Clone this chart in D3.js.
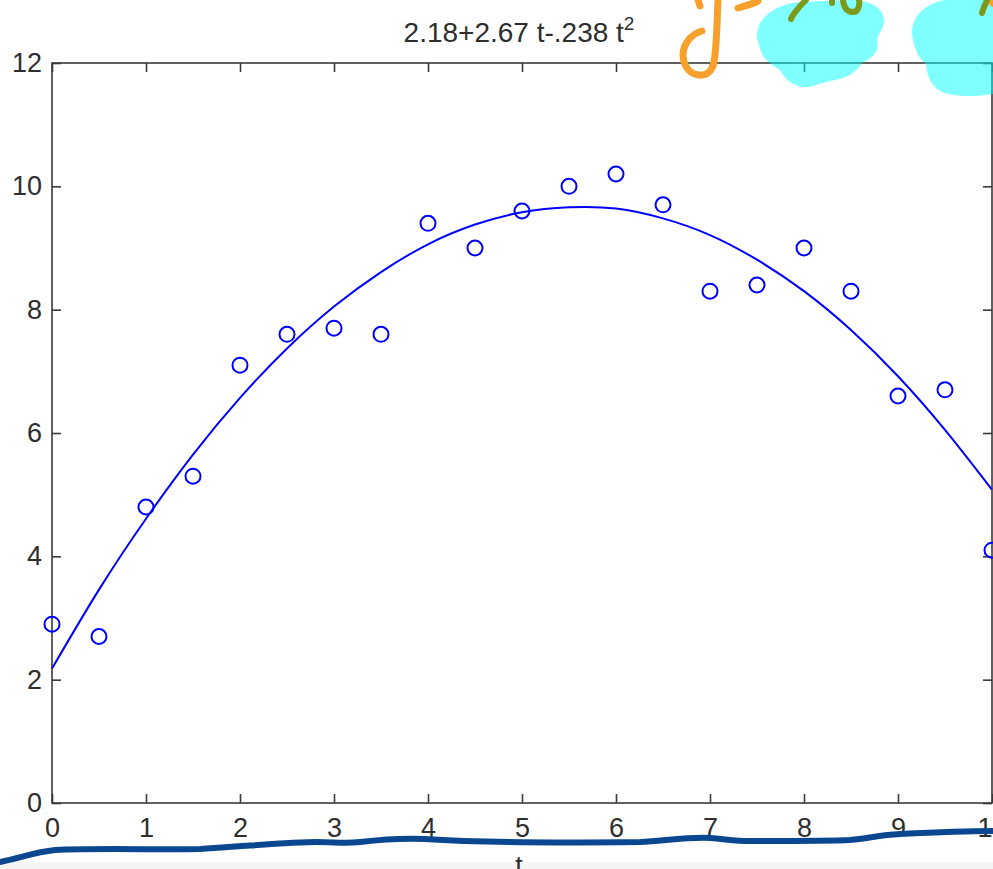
<!DOCTYPE html>
<html>
<head>
<meta charset="utf-8">
<script src="https://cdn.jsdelivr.net/npm/d3@7"></script>
<style>
  body { margin: 0; background: #fff; }
  svg { display: block; }
  .axis text { font-family: "Liberation Sans", Arial, sans-serif; font-size: 27px; fill: #2e2e2e; }
  .axis line { stroke: #3a3a3a; stroke-width: 1.6; }
</style>
</head>
<body>
<div id="chart"></div>
<script>
const tValues = [0, 0.5, 1, 1.5, 2, 2.5, 3, 3.5, 4, 4.5, 5, 5.5, 6, 6.5, 7, 7.5, 8, 8.5, 9, 9.5, 10];
const yValues = [2.9, 2.7, 4.8, 5.3, 7.1, 7.6, 7.7, 7.6, 9.4, 9.0, 9.6, 10.0, 10.2, 9.7, 8.3, 8.4, 9.0, 8.3, 6.6, 6.7, 4.1];
// fitted curve as drawn, read at the same times
const fitValues = [2.18, 3.46, 4.61, 5.65, 6.57, 7.37, 8.05, 8.61, 9.06, 9.38, 9.58, 9.66, 9.64, 9.48, 9.21, 8.81, 8.30, 7.67, 6.92, 6.05, 5.08];
const xTicks = [0, 1, 2, 3, 4, 5, 6, 7, 8, 9, 10];
const yTicks = [0, 2, 4, 6, 8, 10, 12];

const W = 993, H = 869;
const margin = {top: 63, right: 1, bottom: 66, left: 52};

const svg = d3.select("#chart").append("svg")
    .attr("width", W)
    .attr("height", H);

const x = d3.scaleLinear().domain([0, 10]).range([margin.left, W - margin.right]);
const y = d3.scaleLinear().domain([0, 12]).range([H - margin.bottom, margin.top]);

// light strip at the very bottom of the screenshot
svg.append("rect")
    .attr("x", 0).attr("y", 862).attr("width", W).attr("height", H - 862)
    .attr("fill", "#f4f4f4");

// axes, MATLAB style: ticks pointing inward on all four sides
const tick = 9;
const gx = svg.append("g").attr("class", "axis")
    .attr("transform", `translate(0,${y(0)})`)
    .call(d3.axisBottom(x).tickValues(xTicks).tickSizeInner(-tick).tickSizeOuter(0).tickPadding(15));
const gy = svg.append("g").attr("class", "axis")
    .attr("transform", `translate(${x(0)},0)`)
    .call(d3.axisLeft(y).tickValues(yTicks).tickSizeInner(-tick).tickSizeOuter(0).tickPadding(10));
const gt = svg.append("g").attr("class", "axis")
    .attr("transform", `translate(0,${y(12)})`)
    .call(d3.axisTop(x).tickValues(xTicks).tickSizeInner(-tick).tickSizeOuter(0).tickFormat(""));
const gr = svg.append("g").attr("class", "axis")
    .attr("transform", `translate(${x(10)},0)`)
    .call(d3.axisRight(y).tickValues(yTicks).tickSizeInner(-tick).tickSizeOuter(0).tickFormat(""));
svg.selectAll(".axis .domain").remove();

// box
svg.append("rect")
    .attr("x", x(0)).attr("y", y(12))
    .attr("width", x(10) - x(0)).attr("height", y(0) - y(12))
    .attr("fill", "none").attr("stroke", "#3a3a3a").attr("stroke-width", 1.6);

// title
const title = svg.append("text")
    .attr("x", (x(0) + x(10)) / 2 - 3)
    .attr("y", 42)
    .attr("text-anchor", "middle")
    .attr("font-family", "Liberation Sans, Arial, sans-serif")
    .attr("font-size", 28)
    .attr("fill", "#2e2e2e");
title.append("tspan").text("2.18+2.67 t-.238 t");
title.append("tspan").attr("font-size", 19).attr("dy", -12).text("2");

// x label, mostly cut off at the bottom
svg.append("text")
    .attr("x", (x(0) + x(10)) / 2 - 3)
    .attr("y", 875)
    .attr("text-anchor", "middle")
    .attr("font-family", "Liberation Sans, Arial, sans-serif")
    .attr("font-size", 27)
    .attr("fill", "#2e2e2e")
    .text("t");

// fitted curve
const line = d3.line()
    .x((d, i) => x(tValues[i]))
    .y(d => y(d))
    .curve(d3.curveNatural);
svg.append("path")
    .datum(fitValues)
    .attr("d", line)
    .attr("fill", "none")
    .attr("stroke", "#0000ff")
    .attr("stroke-width", 2);

// data points
svg.append("g")
    .selectAll("circle")
    .data(yValues)
    .join("circle")
    .attr("cx", (d, i) => x(tValues[i]))
    .attr("cy", d => y(d))
    .attr("r", 7.5)
    .attr("fill", "none")
    .attr("stroke", "#0000ff")
    .attr("stroke-width", 2);

// handwritten marks on top of the screenshot
const ink = svg.append("g").attr("fill", "none").attr("stroke-linecap", "round").attr("stroke-linejoin", "round");

ink.append("path")
    .attr("d", "M757,38 C756,18 775,4 800,2 L850,0 C870,0 885,8 884,22 C883,30 878,34 877,40 C880,52 872,58 862,63 C856,72 848,78 835,80 C822,82 812,88 804,87 C792,86 784,78 780,70 C770,64 762,58 760,48 Z")
    .attr("fill", "#00ffff").attr("fill-opacity", 0.5).attr("stroke", "none");
ink.append("path")
    .attr("d", "M912,32 C913,15 925,4 945,0 L993,0 L993,94 C975,97 955,97 942,92 C930,86 927,74 926,64 C918,58 913,46 912,32 Z")
    .attr("fill", "#00ffff").attr("fill-opacity", 0.5).attr("stroke", "none");

// orange "y="
ink.append("path")
    .attr("d", "M718,0 C717,20 717,45 714,62 C712,72 706,76 699,75 C688,74 683,64 683,54 C684,42 692,34 702,31")
    .attr("stroke", "#f7a12c").attr("stroke-width", 7);
ink.append("path")
    .attr("d", "M698,0 L700,6")
    .attr("stroke", "#f7a12c").attr("stroke-width", 7);
ink.append("path")
    .attr("d", "M738,8 C745,6 752,4 758,1")
    .attr("stroke", "#f7a12c").attr("stroke-width", 7);
ink.append("path")
    .attr("d", "M991,2 L993,4")
    .attr("stroke", "#f7a12c").attr("stroke-width", 6);

// green digits peeking under the blobs
ink.append("path")
    .attr("d", "M806,0 C800,6 794,12 791,19")
    .attr("stroke", "#7b9a1c").attr("stroke-width", 6);
ink.append("path")
    .attr("d", "M832,1 L832,3")
    .attr("stroke", "#7b9a1c").attr("stroke-width", 6);
ink.append("path")
    .attr("d", "M843,0 C844,9 848,12 853,12 C858,12 860,6 859,0")
    .attr("stroke", "#7b9a1c").attr("stroke-width", 6);
ink.append("path")
    .attr("d", "M987,0 C985,5 983,9 982,13")
    .attr("stroke", "#7b9a1c").attr("stroke-width", 6);

// dark blue underline
ink.append("path")
    .attr("d", "M0,862 C20,858 35,852 55,850 C100,848 160,850 200,849 C250,846 290,842 317,842 C335,842 345,844 360,842 C385,839 405,838 425,839 C470,842 560,843 640,842 C670,840 690,837 710,838 C725,839 735,841 750,841 C790,841 830,841 850,840 C870,838 880,835 900,834 C940,832 970,831 993,831")
    .attr("stroke", "#0b4790").attr("stroke-width", 6);
</script>
</body>
</html>
